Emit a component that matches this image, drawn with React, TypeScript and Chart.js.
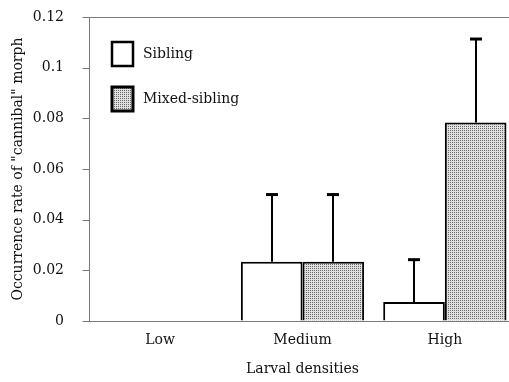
import React, { useEffect, useRef } from 'react';
import { Chart, registerables } from 'chart.js';

Chart.register(...registerables);

const categories = ['Low', 'Medium', 'High'];
const seriesNames = ['Sibling', 'Mixed-sibling'];
const siblingValues = [0, 0.0234, 0.0075];
const mixedValues = [0, 0.0234, 0.0784];
const siblingErrors = [0, 0.0269, 0.0171];
const mixedErrors = [0, 0.0269, 0.0333];
const yTicks = [0, 0.02, 0.04, 0.06, 0.08, 0.1, 0.12];
const yTickLabels = ['0', '0.02', '0.04', '0.06', '0.08', '0.1', '0.12'];
const xTitle = 'Larval densities';
const yTitle = 'Occurrence rate of "cannibal" morph';

const FONT = '"DejaVu Serif", "Liberation Serif", serif';

function makePattern(ctx: CanvasRenderingContext2D): CanvasPattern | string {
  const c = document.createElement('canvas');
  c.width = 2;
  c.height = 2;
  const p = c.getContext('2d');
  if (!p) return '#cccccc';
  p.fillStyle = '#e0e0e0';
  p.fillRect(0, 0, 2, 2);
  p.fillStyle = '#666666';
  p.fillRect(0, 0, 1, 1);
  return ctx.createPattern(c, 'repeat') || '#cccccc';
}

export default function App() {
  const ref = useRef<HTMLCanvasElement | null>(null);

  useEffect(() => {
    const canvas = ref.current;
    if (!canvas) return;
    const ctx0 = canvas.getContext('2d') as CanvasRenderingContext2D;
    const pattern = makePattern(ctx0);
    const errors = [siblingErrors, mixedErrors];
    const fills: any[] = ['#ffffff', pattern];

    const framePlugin = {
      id: 'frame',
      beforeDatasetsDraw(chart: any) {
        const { ctx, chartArea } = chart;
        const ys = chart.scales.y;
        ctx.save();
        ctx.strokeStyle = '#7a7a7a';
        ctx.lineWidth = 1;
        const l = Math.round(chartArea.left) + 0.5;
        const t = Math.round(chartArea.top) + 0.5;
        const b = Math.round(chartArea.bottom) + 0.5;
        const r = chartArea.right + 10;
        ctx.beginPath();
        ctx.moveTo(r, t);
        ctx.lineTo(l, t);
        ctx.lineTo(l, b);
        ctx.lineTo(r, b);
        ys.ticks.forEach((tk: any) => {
          const py = Math.round(ys.getPixelForValue(tk.value)) + 0.5;
          ctx.moveTo(l - 7, py);
          ctx.lineTo(l, py);
        });
        ctx.stroke();
        ctx.restore();
      },
    };

    const errorPlugin = {
      id: 'errorBars',
      afterDatasetsDraw(chart: any) {
        const { ctx } = chart;
        const y = chart.scales.y;
        errors.forEach((errs, di) => {
          const meta = chart.getDatasetMeta(di);
          meta.data.forEach((bar: any, i: number) => {
            const e = errs[i];
            if (!e) return;
            const v = chart.data.datasets[di].data[i] as number;
            const x = Math.round(bar.x);
            const yTop = y.getPixelForValue(v + e);
            const yBar = y.getPixelForValue(v);
            ctx.save();
            ctx.strokeStyle = '#000';
            ctx.lineWidth = 2;
            ctx.beginPath();
            ctx.moveTo(x, yBar);
            ctx.lineTo(x, yTop);
            ctx.stroke();
            ctx.lineWidth = 3;
            ctx.beginPath();
            ctx.moveTo(x - 6, yTop + 1);
            ctx.lineTo(x + 6, yTop + 1);
            ctx.stroke();
            ctx.restore();
          });
        });
      },
    };

    const legendPlugin = {
      id: 'insideLegend',
      afterDraw(chart: any) {
        const { ctx, chartArea } = chart;
        ctx.save();
        chart.data.datasets.forEach((ds: any, i: number) => {
          const bx = chartArea.left + 23;
          const by = chartArea.top + 25 + i * 45;
          const w = 21;
          const h = 24;
          ctx.fillStyle = fills[i];
          ctx.fillRect(bx, by, w, h);
          ctx.strokeStyle = '#000';
          ctx.lineWidth = i === 0 ? 2.5 : 3;
          ctx.strokeRect(bx, by, w, h);
          ctx.fillStyle = '#111';
          ctx.font = '14px ' + FONT;
          ctx.textBaseline = 'middle';
          ctx.textAlign = 'left';
          ctx.fillText(ds.label, bx + 31, by + h / 2);
        });
        ctx.restore();
      },
    };

    const chart = new Chart(canvas, {
      type: 'bar',
      data: {
        labels: categories,
        datasets: [
          {
            label: seriesNames[0],
            data: siblingValues,
            backgroundColor: fills[0],
            borderColor: '#000',
            borderWidth: 2,
            categoryPercentage: 0.866,
            barPercentage: 1.0,
          },
          {
            label: seriesNames[1],
            data: mixedValues,
            backgroundColor: fills[1],
            borderColor: '#000',
            borderWidth: 2,
            categoryPercentage: 0.866,
            barPercentage: 1.0,
          },
        ],
      },
      options: {
        responsive: false,
        animation: false,
        devicePixelRatio: 1,
        layout: { padding: { left: 0, right: 10, top: 17, bottom: 0 } },
        plugins: {
          legend: { display: false },
          tooltip: { enabled: false },
        },
        scales: {
          x: {
            grid: { display: false, drawTicks: false },
            border: { display: false },
            ticks: {
              color: '#111',
              font: { family: FONT, size: 14 },
              padding: 11,
            },
            title: {
              display: true,
              text: xTitle,
              color: '#111',
              font: { family: FONT, size: 14 },
              padding: { top: 0, bottom: 4 },
            },
            afterFit(scale: any) {
              scale.height = 61;
            },
          },
          y: {
            min: 0,
            max: 0.12,
            grid: {
              drawOnChartArea: false,
              drawTicks: true,
              tickLength: 22,
              color: 'rgba(0,0,0,0)',
              tickColor: 'rgba(0,0,0,0)',
            },
            border: { display: false },
            afterBuildTicks(scale: any) {
              scale.ticks = yTicks.map((v) => ({ value: v }));
            },
            ticks: {
              color: '#111',
              font: { family: FONT, size: 14 },
              padding: 3,
              callback: (_v: any, i: number) => yTickLabels[i],
            },
            title: {
              display: true,
              text: yTitle,
              color: '#111',
              font: { family: FONT, size: 14 },
              padding: { top: 10, bottom: 0 },
            },
            afterFit(scale: any) {
              scale.width = 89;
            },
          },
        },
      },
      plugins: [framePlugin, errorPlugin, legendPlugin],
    } as any);

    return () => chart.destroy();
  }, []);

  return (
    <div
      style={{
        position: 'absolute',
        left: 0,
        top: 0,
        width: 509,
        height: 382,
        overflow: 'hidden',
        background: '#fff',
      }}
    >
      <canvas ref={ref} width={526} height={382} style={{ display: 'block' }} />
    </div>
  );
}
